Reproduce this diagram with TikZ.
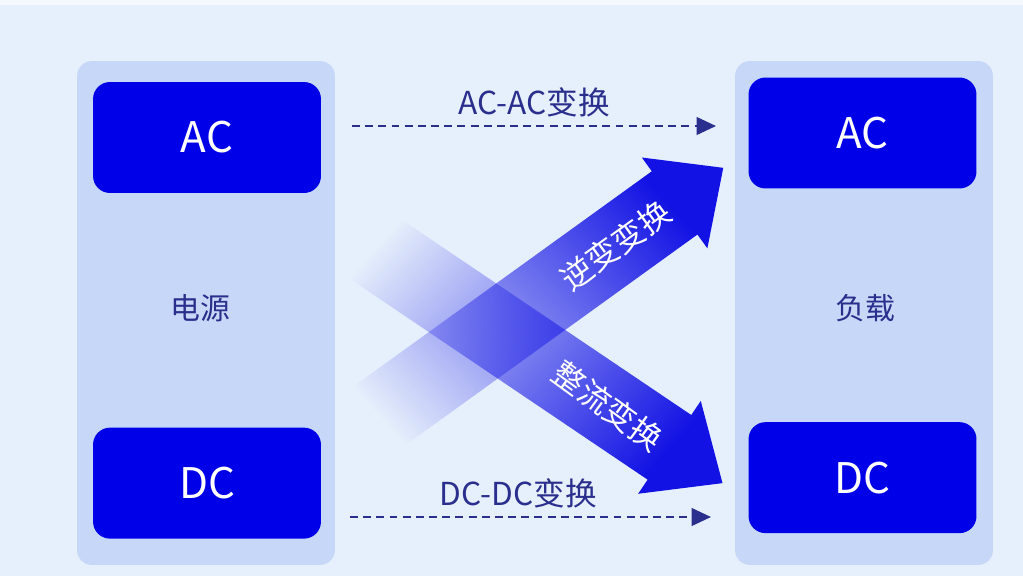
\documentclass[tikz,border=0pt]{standalone}
\usepackage{fontspec}
\setmainfont{Noto Sans CJK SC}
\usetikzlibrary{positioning, arrows.meta, fadings}

\definecolor{bgblue}{HTML}{E6EFFC}
\definecolor{panelblue}{HTML}{C7D7F7}
\definecolor{boxblue}{HTML}{0000E8}
\definecolor{flowblue}{HTML}{1212E4}
\definecolor{navy}{HTML}{2A2E8C}

\tikzfading[name=tailfade, left color=transparent!100, right color=transparent!0]

\begin{document}
\begin{tikzpicture}[
         x=0.02cm, y=0.02cm,
         panel/.style={fill=panelblue, rounded corners=0.3cm, minimum width=5.16cm, minimum height=10.08cm, inner sep=0pt},
         power/.style={fill=boxblue, rounded corners=0.34cm, minimum width=4.56cm, minimum height=2.22cm, inner sep=0pt, text=white, font=\fontsize{24}{28}\selectfont},
         caption/.style={text=navy, font=\fontsize{17}{20}\selectfont},
         convert/.style={navy, line width=1.3pt, dash pattern=on 4.5pt off 3pt, -{Triangle[length=11pt, width=10pt]}},
         flow/.style={fill=flowblue, path fading=tailfade},
         flowtext/.style={text=white, font=\fontsize{18}{20}\selectfont}
      ]
         % Background
         \fill[bgblue] (0,0) rectangle (1023,576);
         \fill[white!60!bgblue] (0,571) rectangle (1023,576);
         \useasboundingbox (0,0) rectangle (1023,576);

         % Panels for source and load
         \node[panel] (srcpanel) at (206,263) {};
         \node[panel] (loadpanel) at (864,263) {};
         \node[caption] (srclabel) at (200,268) {电源};
         \node[caption] (loadlabel) at (865,268) {负载};

         % AC and DC boxes
         \node[power] (srcac) at (207,438.5) {AC};
         \node[power] (srcdc) [below=4.68cm of srcac] {DC};
         \node[power] (loadac) at (862.5,443) {AC};
         \node[power] (loaddc) [below=4.66cm of loadac] {DC};

         % Crossing flows
         \begin{scope}[shift={(497,245)}, rotate=-34]
            \fill[flow, fading angle=-34] (-178,-39) -- (208,-39) -- (208,-56) -- (272,0) -- (208,56) -- (208,39) -- (-178,39) -- cycle;
            \node[flowtext, rotate=-36] (rectifier) at (134,0) {整流变换};
         \end{scope}
         \begin{scope}[shift={(497,245)}, rotate=35.8]
            \fill[flow, fading angle=35.8] (-178,-39) -- (219,-39) -- (219,-56) -- (279,0) -- (219,56) -- (219,39) -- (-178,39) -- cycle;
            \node[flowtext, rotate=35.8] (inverter) at (146,0) {逆变变换};
         \end{scope}

         % Same-type conversions
         \coordinate (acfrom) at (352,450);
         \coordinate (acto) at (716,450);
         \coordinate (dcfrom) at (350,59);
         \coordinate (dcto) at (711,59);
         \draw[convert] (acfrom) -- node[caption, above=1pt, font=\fontsize{18}{20}\selectfont] (acac) {AC-AC变换} (acto);
         \draw[convert] (dcfrom) -- node[caption, above=1pt, xshift=-7, font=\fontsize{18}{20}\selectfont] (dcdc) {DC-DC变换} (dcto);
      \end{tikzpicture}
\end{document}
